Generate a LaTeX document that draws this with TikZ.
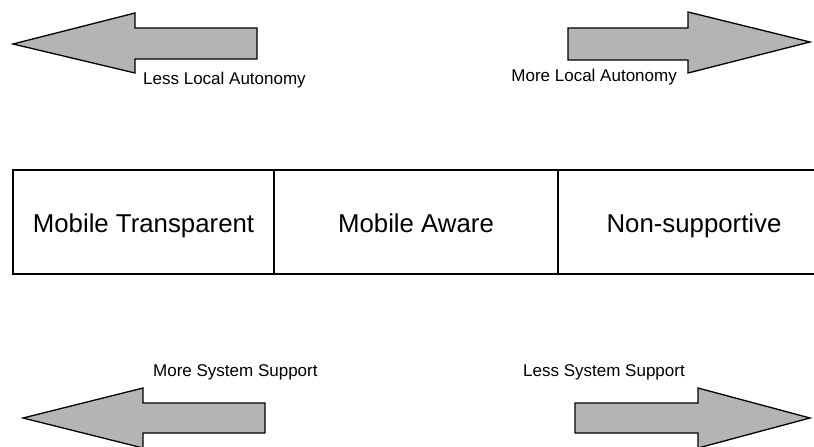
\documentclass[tikz,border=0pt]{standalone}
\usepackage{fontspec}
\setmainfont{Liberation Sans}
\definecolor{arrowgray}{RGB}{180,180,180}
\begin{document}
\begin{tikzpicture}[x=1pt,y=-1pt,
  bigarrow/.style={draw=black, line width=1.3pt, fill=arrowgray, line join=miter},
  cell/.style={draw=black, line width=1.2pt, minimum height=104pt, inner sep=0pt,
    text height=24pt, text depth=4pt,
    font=\fontsize{25.8}{30}\selectfont},
  tag/.style={font=\fontsize{17}{20}\selectfont, inner sep=0pt}]
\useasboundingbox (0,0) rectangle (814,447);

% scale cells
\node[cell, minimum width=261pt] (mt) at (143.5,222) {Mobile Transparent};
\node[cell, minimum width=284pt] (ma) at (416,222) {Mobile Aware};
\node[cell, minimum width=272pt] (ns) at (694,222) {Non-supportive};

% local autonomy arrows
\draw[bigarrow] (257,28) -- (135,28) -- (135,13) -- (13,44) -- (135,73) -- (135,59) -- (257,59) -- cycle;
\draw[bigarrow] (568,28) -- (688,28) -- (688,12) -- (810,42) -- (688,73) -- (688,60) -- (568,60) -- cycle;
\node[tag, anchor=west] (lla) at (143,80) {Less Local Autonomy};
\node[tag, anchor=east] (mla) at (677,77) {More Local Autonomy};

% system support arrows
\draw[bigarrow] (265,403) -- (143,403) -- (143,388) -- (23,418) -- (143,448) -- (143,433) -- (265,433) -- cycle;
\draw[bigarrow] (575,403) -- (698,403) -- (698,388) -- (810,418) -- (698,448) -- (698,433) -- (575,433) -- cycle;
\node[tag, anchor=west] (mss) at (153,372) {More System Support};
\node[tag, anchor=west] (lss) at (523,372) {Less System Support};
\end{tikzpicture}
\end{document}
